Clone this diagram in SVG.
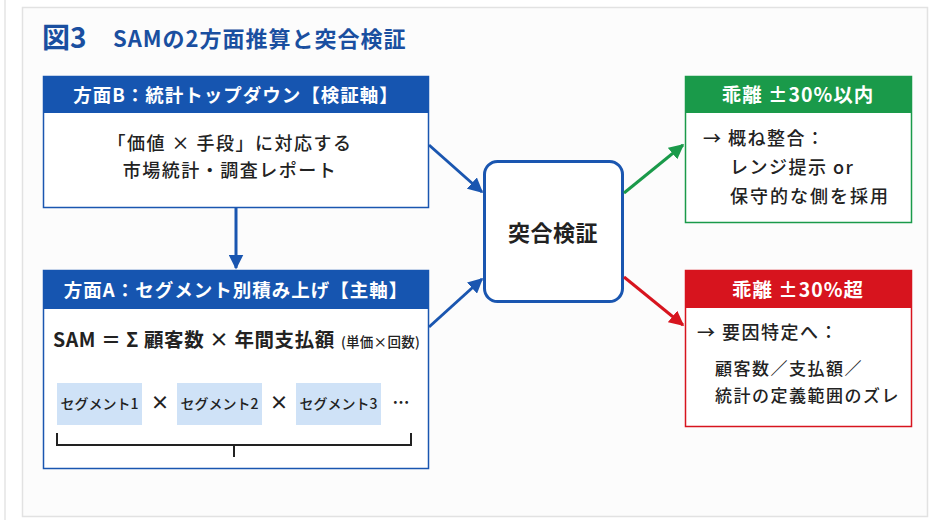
<svg xmlns="http://www.w3.org/2000/svg" width="947" height="531" viewBox="0 0 947 531">
<style>
text{font-family:"Noto Sans CJK JP","Noto Sans",sans-serif;}
.hdr{font-size:18.5px;font-weight:700;fill:#fff;text-anchor:middle;letter-spacing:1px;}
.body{font-size:18px;font-weight:500;fill:#222;letter-spacing:1.5px;}
.c{text-anchor:middle;}
.seg{fill:#cfe2f7;}
.segt{font-size:14px;font-weight:500;fill:#222;text-anchor:middle;}
.conn{fill:none;stroke-width:3;}
</style>
<defs>
<marker id="ab" viewBox="0 0 10 10" refX="9" refY="5" markerWidth="5" markerHeight="5" orient="auto" markerUnits="strokeWidth"><path d="M0,0L10,5L0,10z" fill="#1a56b0"/></marker>
<marker id="ag" viewBox="0 0 10 10" refX="9" refY="5" markerWidth="5" markerHeight="5" orient="auto" markerUnits="strokeWidth"><path d="M0,0L10,5L0,10z" fill="#1a9a4a"/></marker>
<marker id="ar" viewBox="0 0 10 10" refX="9" refY="5" markerWidth="5" markerHeight="5" orient="auto" markerUnits="strokeWidth"><path d="M0,0L10,5L0,10z" fill="#d7141e"/></marker>
</defs>
<rect x="0" y="0" width="947" height="531" fill="#fff"/>
<line x1="5" y1="0" x2="5" y2="520" stroke="#e4e4e4" stroke-width="1.5"/>
<rect x="22.5" y="7.5" width="905" height="509" fill="#fcfcfc" stroke="#e2e2e2" stroke-width="1.5"/>
<g id="title">
<text x="42" y="48" font-size="28" font-weight="700" fill="#1a4fa0">図3</text>
<text x="113" y="47" font-size="22" font-weight="700" fill="#1a4fa0" letter-spacing="1">SAMの2方面推算と突合検証</text>
</g>
<g id="nodeB">
<rect x="43.5" y="76.5" width="385" height="131" fill="#fff" stroke="#1a56b0" stroke-width="1.5"/>
<rect x="43" y="76" width="386" height="37" fill="#1655b0"/>
<text class="hdr" x="236" y="101.5">方面B：統計トップダウン【検証軸】</text>
<text class="body c" x="230" y="150">「価値 × 手段」に対応する</text>
<text class="body c" x="230" y="177">市場統計・調査レポート</text>
</g>
<g id="nodeA">
<rect x="43.5" y="270.5" width="385" height="198" fill="#fff" stroke="#1a56b0" stroke-width="1.5"/>
<rect x="43" y="270" width="386" height="39" fill="#1655b0"/>
<text class="hdr" x="236" y="296.5">方面A：セグメント別積み上げ【主軸】</text>
<text x="53" y="347" font-size="19.5" font-weight="700" fill="#222" letter-spacing="0.6">SAM ＝ Σ 顧客数 × 年間支払額<tspan font-size="13.5" font-weight="500" dx="6" letter-spacing="0.3">(単価×回数)</tspan></text>
<rect class="seg" x="57" y="383" width="85" height="42"/>
<rect class="seg" x="177" y="383" width="85" height="42"/>
<rect class="seg" x="296" y="383" width="85" height="42"/>
<text class="segt" x="99.5" y="409">セグメント1</text>
<text class="segt" x="219.5" y="409">セグメント2</text>
<text class="segt" x="338.5" y="409">セグメント3</text>
<text class="segt" x="160" y="410" style="font-size:19px;font-weight:700">×</text>
<text class="segt" x="279" y="410" style="font-size:19px;font-weight:700">×</text>
<text class="segt" x="401" y="409" style="font-size:17px;font-weight:700">…</text>
<path d="M57,433V445H411V433M234,445V457" fill="none" stroke="#222" stroke-width="2"/>
</g>
<g id="nodeV">
<rect x="484.5" y="161.5" width="138" height="140" rx="13" fill="#fff" stroke="#1a56b0" stroke-width="3"/>
<text x="553" y="241" font-size="22" font-weight="700" fill="#222" text-anchor="middle" letter-spacing="0.5">突合検証</text>
</g>
<g id="nodeG">
<rect x="685.5" y="76.5" width="226" height="146" fill="#fff" stroke="#1a9a4a" stroke-width="1.5"/>
<rect x="685" y="76" width="227" height="37" fill="#1a9a4a"/>
<text class="hdr" x="798" y="101.5" style="font-size:19.5px">乖離 ±30%以内</text>
<text class="body" x="703" y="145">→ 概ね整合：</text>
<text class="body" x="730" y="174">レンジ提示 or</text>
<text class="body" x="730" y="203" style="letter-spacing:2px">保守的な側を採用</text>
</g>
<g id="nodeR">
<rect x="685.5" y="270.5" width="226" height="156" fill="#fff" stroke="#d7141e" stroke-width="1.5"/>
<rect x="685" y="270" width="227" height="38" fill="#d7141e"/>
<text class="hdr" x="798" y="296.5" style="font-size:19.5px">乖離 ±30%超</text>
<text class="body" x="697" y="339">→ 要因特定へ：</text>
<text class="body" x="715" y="375" style="font-size:17px">顧客数／支払額／</text>
<text class="body" x="715" y="402" style="font-size:17px">統計の定義範囲のズレ</text>
</g>
<g id="connectors">
<line class="conn" x1="236" y1="207" x2="236" y2="268" stroke="#1a56b0" marker-end="url(#ab)"/>
<line class="conn" x1="429" y1="145" x2="482" y2="192" stroke="#1a56b0" marker-end="url(#ab)"/>
<line class="conn" x1="429" y1="327" x2="482" y2="279" stroke="#1a56b0" marker-end="url(#ab)"/>
<line class="conn" x1="624" y1="193" x2="683" y2="145" stroke="#1a9a4a" marker-end="url(#ag)"/>
<line class="conn" x1="624" y1="277" x2="683" y2="325" stroke="#d7141e" marker-end="url(#ar)"/>
</g>
</svg>
